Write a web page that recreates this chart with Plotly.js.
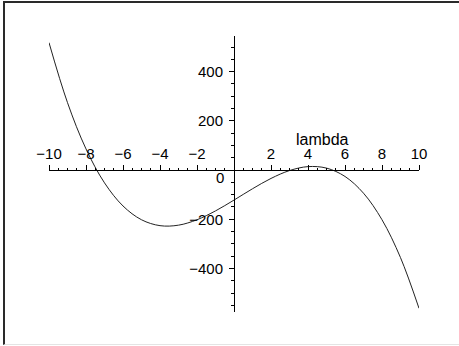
<!DOCTYPE html>
<html>
<head>
<meta charset="utf-8">
<script src="https://cdn.plot.ly/plotly-3.0.1.min.js"></script>
<style>
  html, body { margin: 0; padding: 0; background: #fff; }
  #wrap { position: relative; width: 459px; height: 346px; overflow: hidden; }
  #chart { position: absolute; left: 0; top: 0; width: 459px; height: 346px; }
  #frame {
    position: absolute; left: 3px; top: 1px; width: 456px; height: 344px;
    border-top: 2px solid #2a2a2a; border-left: 2px solid #2a2a2a;
    border-bottom: 1px solid #e4e4e4; box-sizing: border-box; pointer-events: none;
  }
</style>
</head>
<body>
<div id="wrap">
  <div id="chart"></div>
  <div id="frame"></div>
</div>
<script>
// lambda values and the polynomial's values sampled along the curve
const lambda = [-10, -9, -8, -7, -6, -5, -4, -3, -2, -1, 0, 1, 2, 3, 4, 5, 6, 7, 8, 9, 10];
const value  = [518, 274, 86, -52, -146, -202, -226, -224, -202, -166, -122, -76, -34, -2, 14, 8, -26, -94, -202, -356, -562];

// axis ticks (the origin's 0 is placed separately, below-left of the crossing)
const xTicks = [-10, -8, -6, -4, -2, 2, 4, 6, 8, 10];
const yTicks = [-400, -200, 200, 400];
const xTitle = "lambda";
const originLabel = "0";

const W = 459, H = 346;
const plotTop = 36, plotBottom = 312, zeroRow = 170;
const yRange = [-577, 545];

const font = { family: "Liberation Sans, Arial, sans-serif", size: 15, color: "#000" };
const titleFont = { family: "Liberation Sans, Arial, sans-serif", size: 16, color: "#000" };

const trace = {
  x: lambda, y: value, type: "scatter", mode: "lines",
  line: { color: "#222", width: 1, shape: "spline", smoothing: 1 },
  hoverinfo: "skip", showlegend: false
};

const layout = {
  width: W, height: H,
  margin: { l: 49, r: 40, t: plotTop, b: H - plotBottom, pad: 0 },
  paper_bgcolor: "#fff", plot_bgcolor: "rgba(0,0,0,0)",
  font: font,
  showlegend: false,
  xaxis: {
    range: [-10, 10], anchor: "free",
    position: (plotBottom - zeroRow) / (plotBottom - plotTop),
    side: "top",
    showline: true, linecolor: "#000", linewidth: 1,
    showgrid: false, zeroline: false,
    tickmode: "array", tickvals: xTicks,
    ticks: "outside", ticklen: 5, tickwidth: 1, tickcolor: "#000",
    tickfont: font, ticklabelstandoff: 0,
    minor: { dtick: 0.5, tick0: 0, ticks: "outside", ticklen: 2.5, tickwidth: 1, tickcolor: "#000", showgrid: false }
  },
  yaxis: {
    range: yRange, anchor: "free", position: 0.5, side: "left",
    showline: true, linecolor: "#000", linewidth: 1,
    showgrid: false, zeroline: false,
    tickmode: "array", tickvals: yTicks,
    ticks: "outside", ticklen: 5, tickwidth: 1, tickcolor: "#000",
    tickfont: font, ticklabelstandoff: 3,
    minor: { dtick: 50, tick0: 0, ticks: "outside", ticklen: 3, tickwidth: 1, tickcolor: "#000", showgrid: false }
  },
  annotations: [
    { x: 4.8, y: 124, xref: "x", yref: "y", text: xTitle, showarrow: false,
      xanchor: "center", yanchor: "middle", font: titleFont },
    { x: -0.75, y: -32, xref: "x", yref: "y", text: originLabel, showarrow: false,
      xanchor: "center", yanchor: "middle", font: font }
  ]
};

Plotly.newPlot("chart", [trace], layout, { staticPlot: true, displayModeBar: false });
</script>
</body>
</html>
